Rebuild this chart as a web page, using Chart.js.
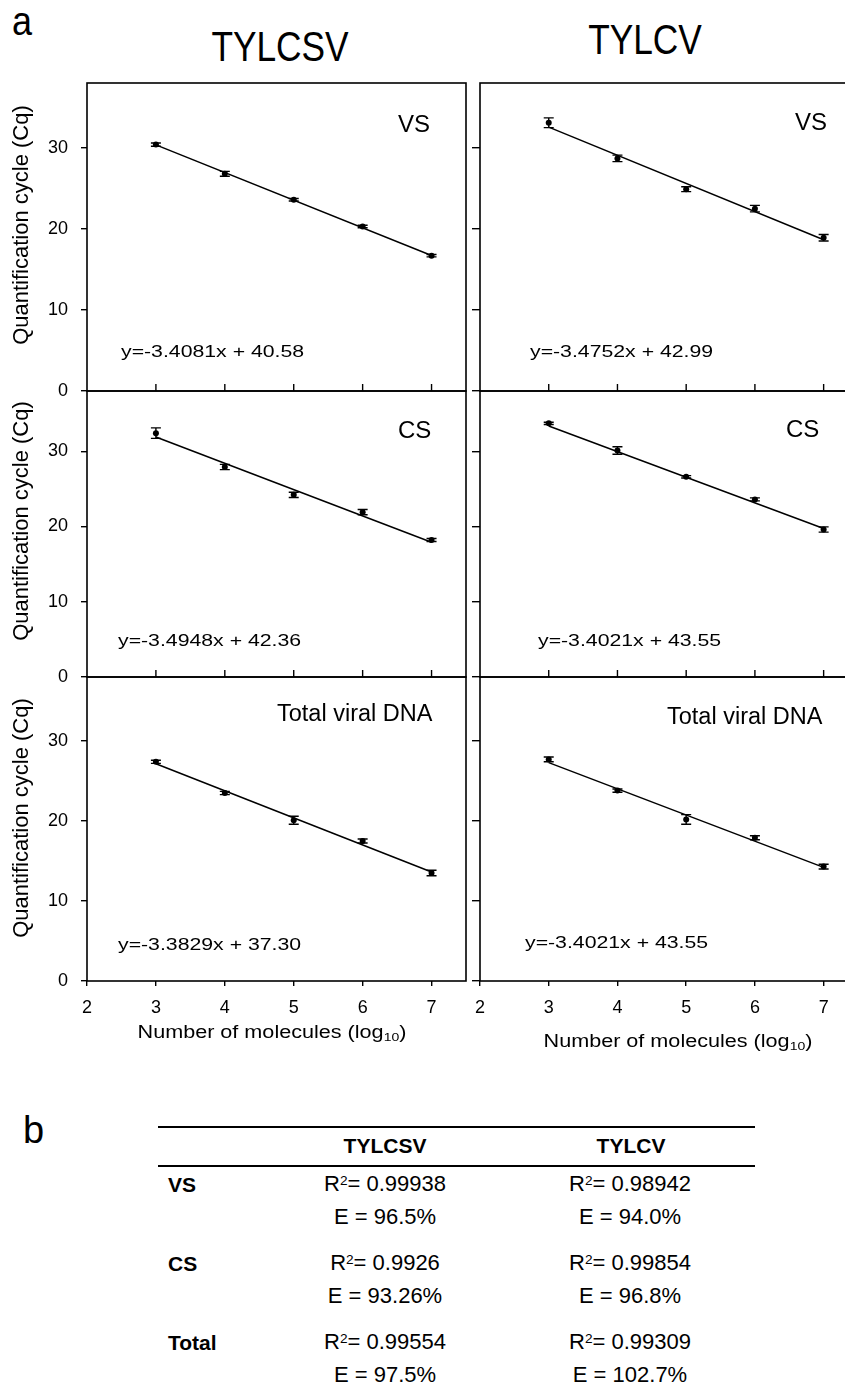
<!DOCTYPE html>
<html>
<head>
<meta charset="utf-8">
<script src="https://cdn.jsdelivr.net/npm/chart.js@4.4.0/dist/chart.umd.min.js"></script>
<style>
html, body { margin: 0; padding: 0; width: 845px; height: 1388px; overflow: hidden; background: #fff; }
body { position: relative; font-family: "Liberation Sans", Arial, sans-serif; color: #000; }
canvas { position: absolute; }
.txt { position: absolute; white-space: nowrap; line-height: 1; }
.rule { position: absolute; left: 158px; width: 597px; height: 2px; background: #000; }
</style>
</head>
<body>
<script>
// x positions (log10 of molecule number)
const xValues = [3, 4, 5, 6, 7];

// mean Cq and error bars, per virus and strand
const tylcsvVS = [30.4, 26.8, 23.6, 20.3, 16.7];
const tylcsvVSErr = [0.2, 0.3, 0.15, 0.15, 0.15];
const tylcsvCS = [32.4, 27.9, 24.2, 21.9, 18.2];
const tylcsvCSErr = [0.7, 0.35, 0.35, 0.35, 0.2];
const tylcsvTotal = [27.4, 23.5, 20.1, 17.5, 13.5];
const tylcsvTotalErr = [0.2, 0.2, 0.5, 0.25, 0.35];

const tylcvVS = [33.1, 28.7, 24.9, 22.5, 18.9];
const tylcvVSErr = [0.6, 0.4, 0.3, 0.4, 0.4];
const tylcvCS = [33.7, 30.1, 26.6, 23.6, 19.6];
const tylcvCSErr = [0.15, 0.5, 0.15, 0.2, 0.35];
const tylcvTotal = [27.7, 23.8, 20.2, 17.9, 14.3];
const tylcvTotalErr = [0.3, 0.2, 0.6, 0.25, 0.3];

// fitted line ends at x=3 and x=7, as drawn
const tylcsvVSFit = [30.36, 16.72];
const tylcsvCSFit = [31.88, 17.90];
const tylcsvTotalFit = [27.15, 13.62];
const tylcvVSFit = [32.56, 18.66];
const tylcvCSFit = [33.34, 19.74];
const tylcvTotalFit = [27.3, 14.2];

const eqTYLCSV = ['y=-3.4081x + 40.58', 'y=-3.4948x + 42.36', 'y=-3.3829x + 37.30'];
const eqTYLCV = ['y=-3.4752x + 42.99', 'y=-3.4021x + 43.55', 'y=-3.4021x + 43.55'];
const panelNames = ['VS', 'CS', 'Total viral DNA'];
const virusNames = ['TYLCSV', 'TYLCV'];

// table b
const tableRows = ['VS', 'CS', 'Total'];
const r2TYLCSV = ['0.99938', '0.9926', '0.99554'];
const effTYLCSV = ['96.5%', '93.26%', '97.5%'];
const r2TYLCV = ['0.98942', '0.99854', '0.99309'];
const effTYLCV = ['94.0%', '96.8%', '102.7%'];

Chart.defaults.font.family = '"Liberation Sans", Arial, sans-serif';
Chart.defaults.color = '#000';

function addText(html, x, baseline, size, o = {}) {
    const d = document.createElement('div');
    d.className = 'txt';
    d.innerHTML = html;
    d.style.fontSize = size + 'px';
    d.style.top = (baseline - 0.847 * size) + 'px';
    d.style.left = x + 'px';
    if (o.bold) d.style.fontWeight = 'bold';
    const sx = o.sx || 1;
    if (o.center) {
        d.style.transform = `translateX(-50%) scaleX(${sx})`;
        d.style.transformOrigin = 'center';
    } else {
        d.style.transform = `scaleX(${sx})`;
        d.style.transformOrigin = 'left';
    }
    document.body.appendChild(d);
    return d;
}

const panelPlugin = {
    id: 'panel',
    afterDatasetsDraw(chart) {
        const { ctx, scales: { x, y } } = chart;
        const ds = chart.data.datasets[1];
        ctx.save();
        ctx.strokeStyle = '#000';
        ctx.lineWidth = 1.4;
        ds.data.forEach((p, i) => {
            const e = ds.errors[i];
            const px = x.getPixelForValue(p.x);
            const top = y.getPixelForValue(p.y + e);
            const bot = y.getPixelForValue(p.y - e);
            ctx.beginPath();
            ctx.moveTo(px, top); ctx.lineTo(px, bot);
            ctx.moveTo(px - 5, top); ctx.lineTo(px + 5, top);
            ctx.moveTo(px - 5, bot); ctx.lineTo(px + 5, bot);
            ctx.stroke();
        });
        ctx.restore();
    },
    afterDraw(chart, args, opts) {
        const { ctx, chartArea: a, scales: { x } } = chart;
        ctx.save();
        ctx.strokeStyle = '#000';
        ctx.lineWidth = 1.6;
        ctx.strokeRect(a.left, a.top, a.right - a.left, a.bottom - a.top);
        if (opts.inward) {
            ctx.lineWidth = 1.4;
            x.ticks.forEach(t => {
                if (t.value <= x.min) return;
                const px = x.getPixelForValue(t.value);
                ctx.beginPath();
                ctx.moveTo(px, a.bottom);
                ctx.lineTo(px, a.bottom - 7);
                ctx.stroke();
            });
        }
        ctx.restore();
    }
};

const rowTop = [83, 391, 677];
const rowBottom = [391, 677, 981];
const xAxisH = [14, 14, 50];
const PAD_TOP = 12;

function noPad(s) {
    s.paddingTop = 0;
    s.paddingBottom = 0;
    s.paddingLeft = 0;
    s.paddingRight = 0;
}

function makePanel(col, row, means, errs, fit) {
    const canvas = document.createElement('canvas');
    const w = 470;
    const h = PAD_TOP + (rowBottom[row] - rowTop[row]) + xAxisH[row];
    canvas.width = w;
    canvas.height = h;
    canvas.style.left = (col === 0 ? 0 : 470) + 'px';
    canvas.style.top = (rowTop[row] - PAD_TOP) + 'px';
    document.body.appendChild(canvas);

    const isBottom = row === 2;
    new Chart(canvas, {
        type: 'scatter',
        data: {
            datasets: [
                {
                    data: [{ x: xValues[0], y: fit[0] }, { x: xValues[4], y: fit[1] }],
                    showLine: true,
                    borderColor: '#000',
                    borderWidth: 1.5,
                    pointRadius: 0
                },
                {
                    data: xValues.map((v, i) => ({ x: v, y: means[i] })),
                    errors: errs,
                    pointRadius: 3,
                    pointBackgroundColor: '#000',
                    pointBorderWidth: 0
                }
            ]
        },
        options: {
            responsive: false,
            animation: false,
            devicePixelRatio: 1,
            events: [],
            layout: { padding: { top: PAD_TOP, right: col === 0 ? 1 : 82, left: 0, bottom: 0 } },
            scales: {
                x: {
                    type: 'linear',
                    min: 2, max: 7.5,
                    afterFit: s => { s.height = xAxisH[row]; noPad(s); },
                    ticks: {
                        display: isBottom,
                        stepSize: 1,
                        includeBounds: false,
                        padding: 11,
                        font: { size: 18 },
                        color: '#000',
                        maxRotation: 0
                    },
                    grid: {
                        display: isBottom,
                        drawOnChartArea: false,
                        drawTicks: true,
                        tickLength: 5,
                        color: '#000',
                        lineWidth: 1.4
                    },
                    border: { display: false }
                },
                y: {
                    min: 0, max: 38,
                    afterFit: s => { s.width = col === 0 ? 87 : 10; noPad(s); },
                    ticks: {
                        display: col === 0,
                        stepSize: 10,
                        includeBounds: false,
                        padding: 13,
                        font: { size: 18 },
                        color: '#000'
                    },
                    grid: {
                        drawOnChartArea: false,
                        drawTicks: true,
                        tickLength: col === 0 ? 6 : 8,
                        color: '#000',
                        lineWidth: 1.4
                    },
                    border: { display: false }
                }
            },
            plugins: {
                legend: { display: false },
                tooltip: { enabled: false },
                panel: { inward: !isBottom }
            }
        },
        plugins: [panelPlugin]
    });
}

makePanel(0, 0, tylcsvVS, tylcsvVSErr, tylcsvVSFit);
makePanel(0, 1, tylcsvCS, tylcsvCSErr, tylcsvCSFit);
makePanel(0, 2, tylcsvTotal, tylcsvTotalErr, tylcsvTotalFit);
makePanel(1, 0, tylcvVS, tylcvVSErr, tylcvVSFit);
makePanel(1, 1, tylcvCS, tylcvCSErr, tylcvCSFit);
makePanel(1, 2, tylcvTotal, tylcvTotalErr, tylcvTotalFit);

// panel letters and column titles
addText('a', 12, 35, 40, { sx: 0.9 });
addText(virusNames[0], 280, 62, 42, { center: true, sx: 0.84 });
addText(virusNames[1], 645, 55, 42, { center: true, sx: 0.84 });

// strand labels
addText(panelNames[0], 398, 132, 24);
addText(panelNames[0], 795, 130, 24);
addText(panelNames[1], 398, 438, 24);
addText(panelNames[1], 786, 437, 24);
addText(panelNames[2], 277, 722, 23.5);
addText(panelNames[2], 667, 725, 23.5);

// equations
addText(eqTYLCSV[0], 121, 357, 17, { sx: 1.25 });
addText(eqTYLCV[0], 530, 357, 17, { sx: 1.25 });
addText(eqTYLCSV[1], 118, 646, 17, { sx: 1.25 });
addText(eqTYLCV[1], 538, 646, 17, { sx: 1.25 });
addText(eqTYLCSV[2], 118, 950, 17, { sx: 1.25 });
addText(eqTYLCV[2], 525, 948, 17, { sx: 1.25 });

// y axis titles
[225, 521, 818].forEach(cy => {
    const d = document.createElement('div');
    d.className = 'txt';
    d.textContent = 'Quantification cycle (Cq)';
    d.style.fontSize = '22px';
    d.style.left = '21px';
    d.style.top = cy + 'px';
    d.style.transform = 'translate(-50%, -50%) rotate(-90deg)';
    document.body.appendChild(d);
});

// x axis titles
const sub = '<span style="font-size:0.65em;position:relative;top:0.3em">10</span>';
addText('Number of molecules (log' + sub + ')', 272, 1038, 18, { center: true, sx: 1.2 });
addText('Number of molecules (log' + sub + ')', 678, 1047, 18, { center: true, sx: 1.2 });

// table b
addText('b', 23, 1143, 38);
[1126, 1165].forEach(y => {
    const r = document.createElement('div');
    r.className = 'rule';
    r.style.top = y + 'px';
    document.body.appendChild(r);
});
addText(virusNames[0], 385, 1153, 21, { center: true, bold: true });
addText(virusNames[1], 631, 1153, 21, { center: true, bold: true });

const sup = '<span style="font-size:0.62em;position:relative;top:-0.5em">2</span>';
tableRows.forEach((name, i) => {
    const base = 1192 + i * 79;
    addText(name, 168, base, 21, { bold: true });
    addText('R' + sup + '= ' + r2TYLCSV[i], 385, base, 22, { center: true });
    addText('R' + sup + '= ' + r2TYLCV[i], 630, base, 22, { center: true });
    addText('E = ' + effTYLCSV[i], 385, base + 33, 22, { center: true });
    addText('E = ' + effTYLCV[i], 630, base + 33, 22, { center: true });
});
</script>
</body>
</html>
